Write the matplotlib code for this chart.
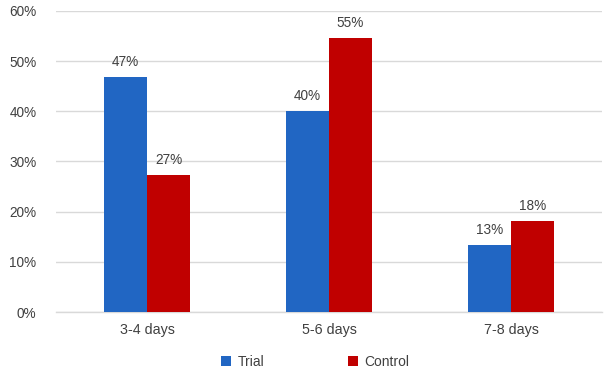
import matplotlib
matplotlib.use("Agg")
import matplotlib.pyplot as plt
import numpy as np

plt.rcParams['font.family'] = ['Liberation Sans', 'DejaVu Sans']

categories = ["3-4 days", "5-6 days", "7-8 days"]
trial = [46.8, 40.1, 13.3]
control = [27.3, 54.6, 18.1]
series_names = ["Trial", "Control"]
colors = ["#2166C3", "#C00000"]

fig = plt.figure(figsize=(6.12, 3.78), dpi=100)
ax = fig.add_axes([0.0915, 0.1746, 0.8925, 0.7964])

x = np.arange(len(categories))
w = 0.236
b1 = ax.bar(x - w/2, trial, w, color=colors[0], label=series_names[0], zorder=3)
b2 = ax.bar(x + w/2, control, w, color=colors[1], label=series_names[1], zorder=3)

for bars in (b1, b2):
    for r in bars:
        h = r.get_height()
        ax.text(r.get_x() + r.get_width()/2, h + 1.6, f"{round(h)}%",
                ha="center", va="bottom", fontsize=9.8, color="#404040")

ax.set_xlim(-0.5, 2.5)
ax.set_ylim(0, 60)
ax.set_yticks(range(0, 61, 10))
ax.set_yticklabels([f"{v}%" for v in range(0, 61, 10)])
ax.set_xticks(x)
ax.set_xticklabels(categories)
ax.tick_params(axis="both", length=0, labelsize=9.8, colors="#404040")
ax.tick_params(axis="x", labelsize=10.3)
ax.tick_params(axis="y", pad=14)
ax.tick_params(axis="x", pad=8)
ax.yaxis.grid(True, color="#D9D9D9", linewidth=1, zorder=0)
for s in ("left", "right", "top"):
    ax.spines[s].set_visible(False)
ax.spines["bottom"].set_color("#D9D9D9")
ax.spines["bottom"].set_linewidth(1)

leg = ax.legend(loc="center", bbox_to_anchor=(0.475, -0.165), ncol=2, frameon=False,
                fontsize=10, handlelength=0.7, handleheight=0.7, columnspacing=6,
                handletextpad=0.5)
for t in leg.get_texts():
    t.set_color("#404040")

fig.savefig("out.png", dpi=100)
